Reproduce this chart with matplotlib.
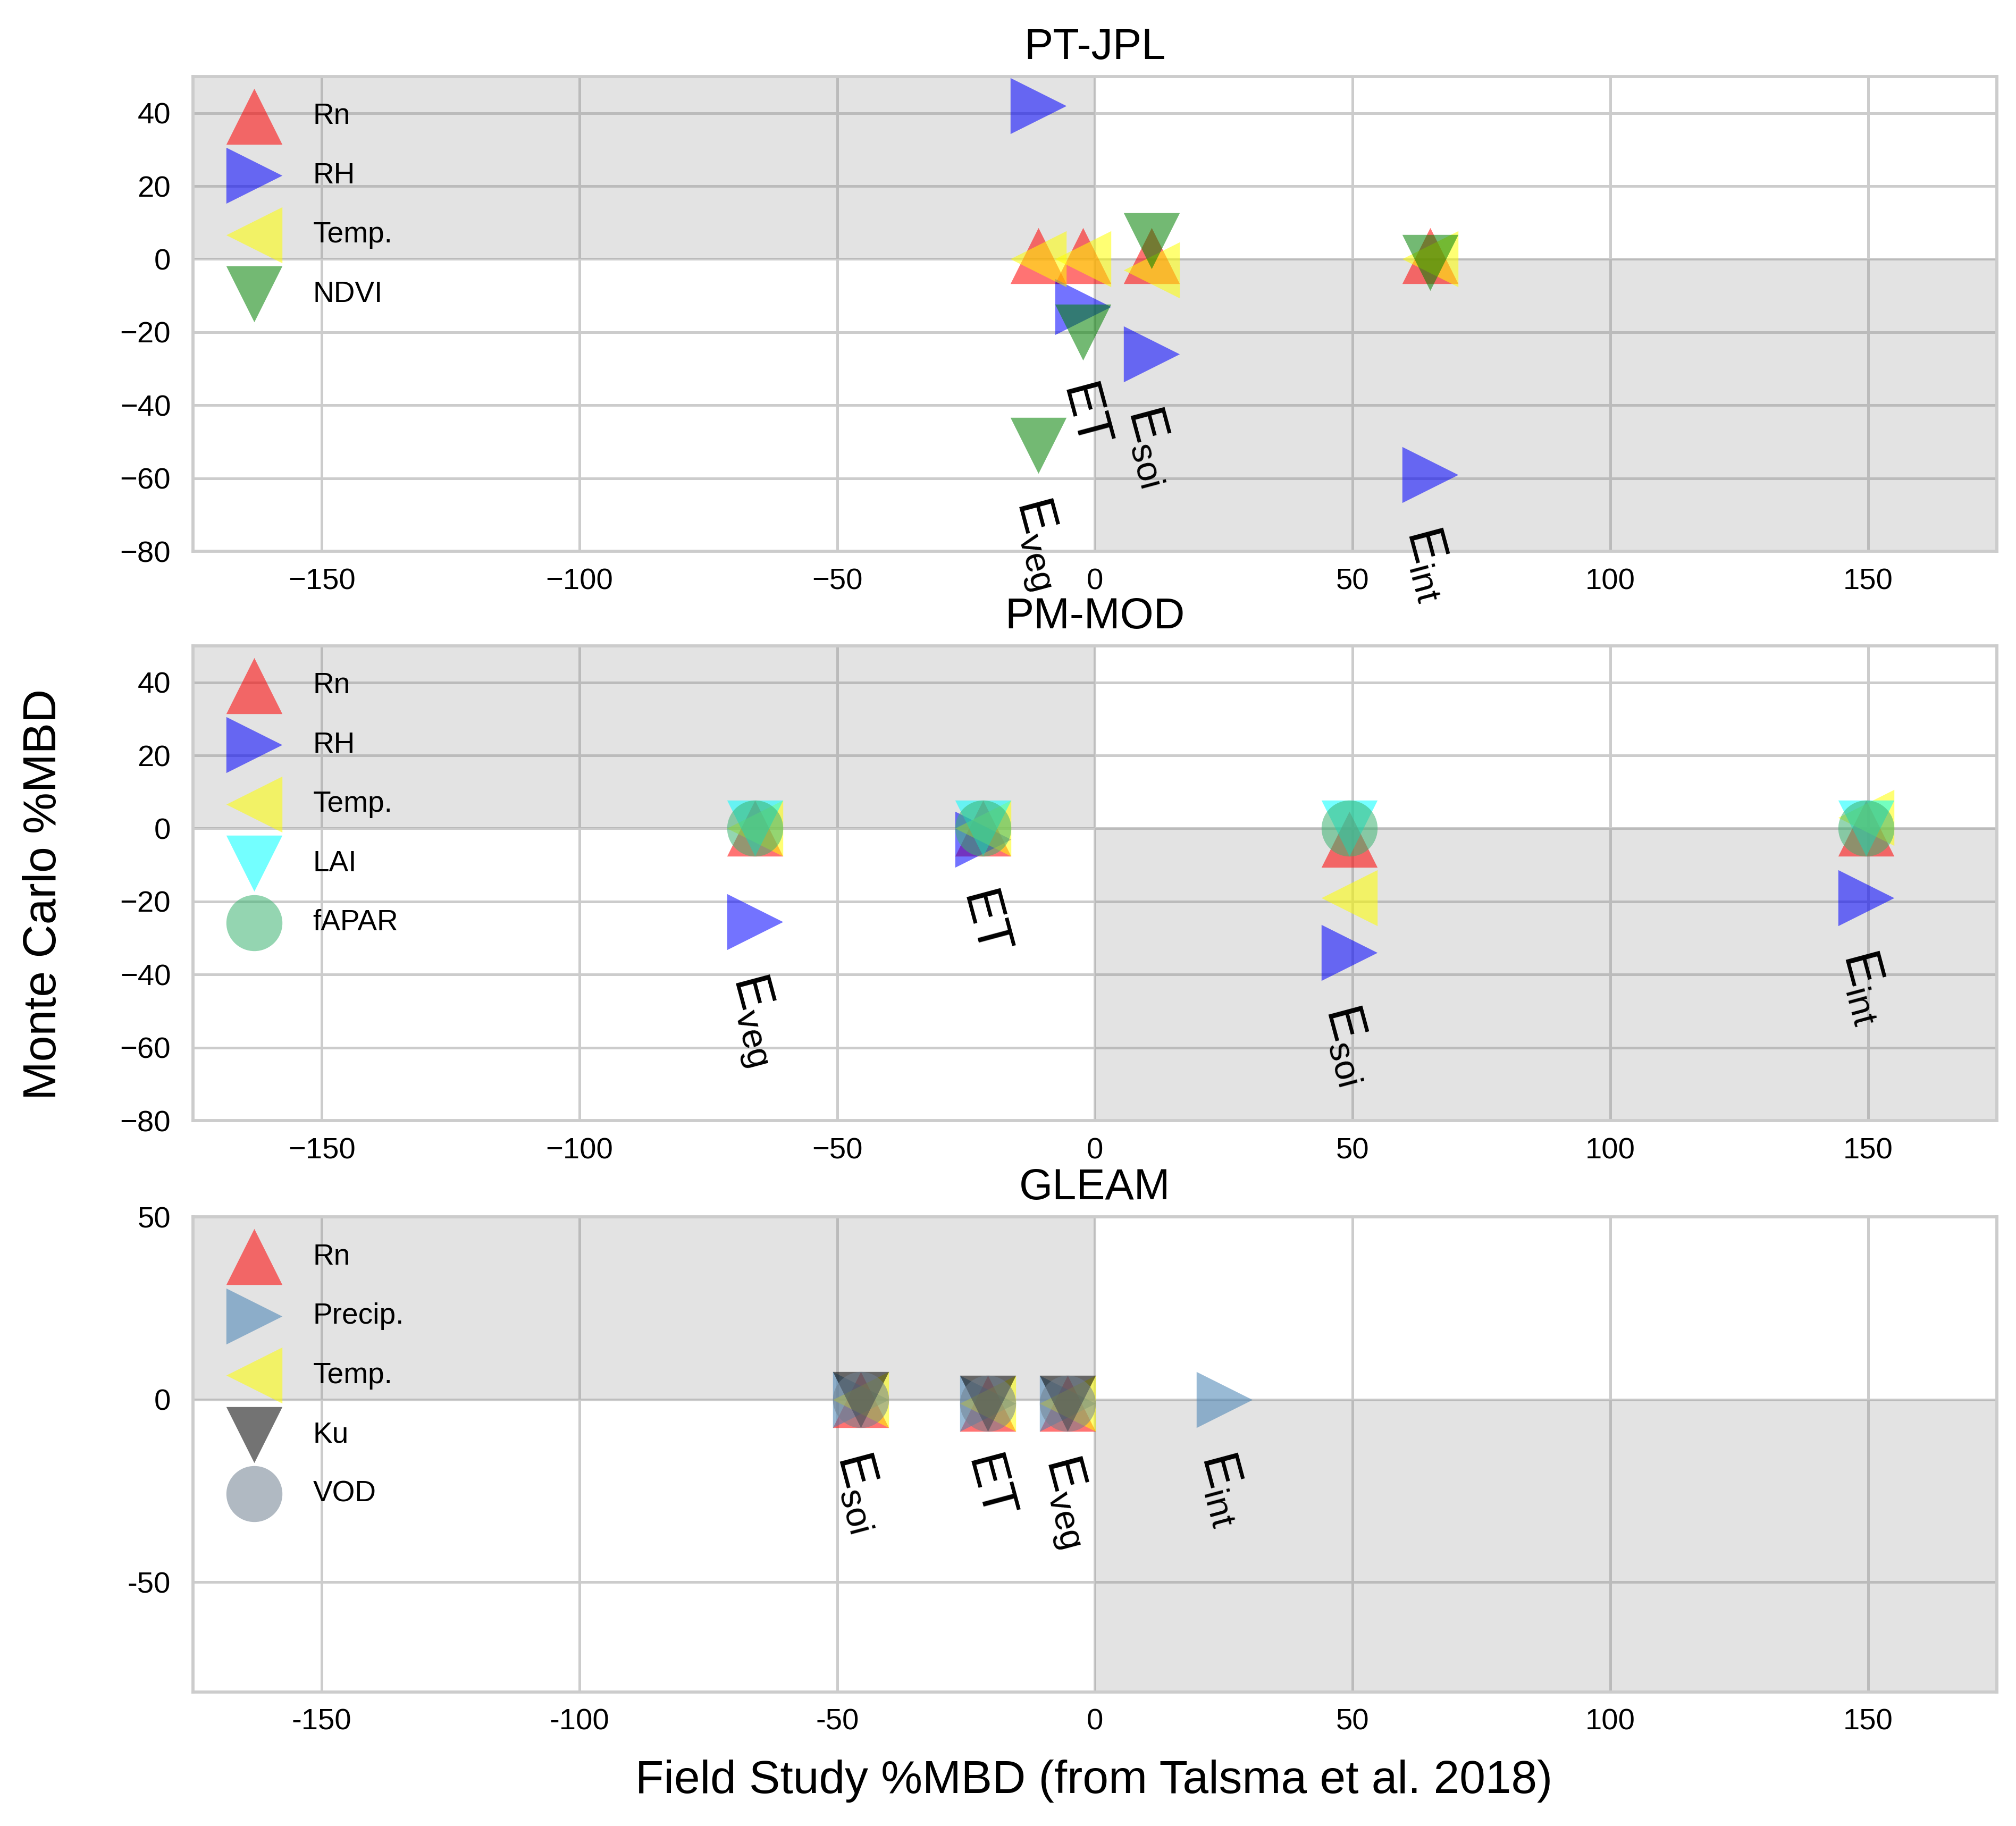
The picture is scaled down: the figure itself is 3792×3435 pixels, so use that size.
import numpy as np
import matplotlib
matplotlib.use('Agg')
import matplotlib.pyplot as plt
from matplotlib.ticker import FuncFormatter

plt.rcParams['font.family'] = ['Liberation Sans', 'DejaVu Sans']
plt.rcParams['mathtext.default'] = 'regular'

nan = np.nan

# component labels (same order in every panel)
comp_labels = [r'$\mathregular{E_{veg}}$', 'ET',
               r'$\mathregular{E_{soi}}$', r'$\mathregular{E_{int}}$']

# PT-JPL
ptjpl_field = [-11, -2.3, 11, 65]
ptjpl_rn = [1, 1, 1, 1]
ptjpl_rh = [42, -13, -26, -59]
ptjpl_temp = [0, 0, -3, 0]
ptjpl_ndvi = [-51, -20, 5, -1]

# PM-MOD
pmmod_field = [-66, -21.7, 49.4, 149.6]
pmmod_rn = [0, 0, -3, 0]
pmmod_rh = [-25.5, -3, -34, -19]
pmmod_temp = [0, 0, -19, 3]
pmmod_lai = [0, 0, 0, 0]
pmmod_fapar = [0, 0, 0, 0]

# GLEAM
gleam_field = [-5.3, -20.8, -45.4, 25.1]
gleam_rn = [-1, -1, 0, nan]
gleam_precip = [-1, -1, 0, 0]
gleam_temp = [-1, -1, 0, nan]
gleam_ku = [-1, -1, 0, nan]
gleam_vod = [-1, -1, 0, nan]

panels = [
    ('PT-JPL', ptjpl_field, [
        ('Rn', ptjpl_rn, '^', 'red'),
        ('RH', ptjpl_rh, '>', 'blue'),
        ('Temp.', ptjpl_temp, '<', 'yellow'),
        ('NDVI', ptjpl_ndvi, 'v', 'green'),
    ]),
    ('PM-MOD', pmmod_field, [
        ('Rn', pmmod_rn, '^', 'red'),
        ('RH', pmmod_rh, '>', 'blue'),
        ('Temp.', pmmod_temp, '<', 'yellow'),
        ('LAI', pmmod_lai, 'v', 'cyan'),
        ('fAPAR', pmmod_fapar, 'o', 'mediumseagreen'),
    ]),
    ('GLEAM', gleam_field, [
        ('Rn', gleam_rn, '^', 'red'),
        ('Precip.', gleam_precip, '>', 'steelblue'),
        ('Temp.', gleam_temp, '<', 'yellow'),
        ('Ku', gleam_ku, 'v', 'black'),
        ('VOD', gleam_vod, 'o', 'slategray'),
    ]),
]

xlim = (-175, 175)
ylim = (-80, 50)

fig = plt.figure(figsize=(12.64, 11.45), dpi=300)
bottoms = [0.6981, 0.3863, 0.0735]

for i, (title, field, series) in enumerate(panels):
    ax = fig.add_axes([0.0957, bottoms[i], 0.8948, 0.26])
    ax.set_axisbelow(True)
    ax.grid(True, color='#cccccc', linewidth=1.2)

    # shade quadrants where field and Monte Carlo signs disagree
    ax.fill_between([xlim[0], 0], 0, ylim[1], color='gray', alpha=0.22, lw=0)
    ax.fill_between([0, xlim[1]], ylim[0], 0, color='gray', alpha=0.22, lw=0)

    for name, vals, mk, col in series:
        ax.scatter(field, vals, marker=mk, s=640, color=col, alpha=0.55,
                   linewidths=0, label=name)

    # component labels below the lowest marker of each column
    allv = np.array([s[1] for s in series], dtype=float)
    for j, lab in enumerate(comp_labels):
        ymin = np.nanmin(allv[:, j])
        ax.text(field[j], ymin - 13, lab, rotation=-75, ha='center', va='top',
                fontsize=23)

    ax.set_xlim(xlim)
    ax.set_ylim(ylim)
    ax.set_xticks([-150, -100, -50, 0, 50, 100, 150])
    if title == 'GLEAM':
        ax.set_yticks([-50, 0, 50])
        fmt = FuncFormatter(lambda v, p: '%g' % v)
        ax.xaxis.set_major_formatter(fmt)
        ax.yaxis.set_major_formatter(fmt)
    else:
        ax.set_yticks(np.arange(-80, 41, 20))

    ax.tick_params(axis='both', length=0, labelsize=13.5)
    ax.tick_params(axis='x', pad=7.5)
    ax.tick_params(axis='y', pad=10)
    for sp in ax.spines.values():
        sp.set_color('#cccccc')
        sp.set_linewidth(1.4)

    ax.set_title(title, fontsize=19.5, pad=8)
    ax.legend(loc='upper left', frameon=False, fontsize=13.2, handlelength=2.4,
              labelspacing=1.08, borderaxespad=0.5, borderpad=0.4, scatterpoints=1)

fig.text(0.0218, 0.5103, 'Monte Carlo %MBD', rotation=90, ha='center',
         va='center', fontsize=21)
fig.text(0.5425, 0.018, 'Field Study %MBD (from Talsma et al. 2018)',
         ha='center', va='baseline', fontsize=21)

fig.savefig('out.png', dpi=300)
